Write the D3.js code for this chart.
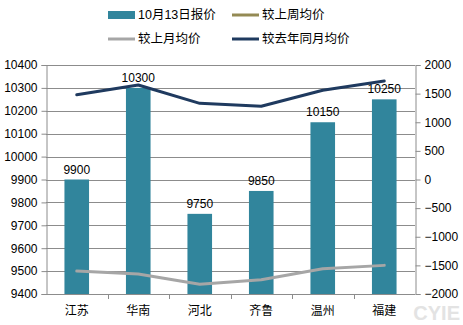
<!DOCTYPE html>
<html>
<head>
<meta charset="utf-8">
<script src="https://cdn.jsdelivr.net/npm/d3@7"></script>
<style>
  html, body { margin: 0; padding: 0; background: #fff; }
  svg { display: block; font-family: "Liberation Sans", "Noto Sans CJK SC", sans-serif; }
</style>
</head>
<body>
<svg id="chart" width="463" height="325"></svg>
<script>
// Regions and their quotes
const regions = ["江苏", "华南", "河北", "齐鲁", "温州", "福建"];
const quotes = [9900, 10300, 9750, 9850, 10150, 10250];
// Differences against reference averages (right axis)
const vsLastWeek = [null, null, null, null, null, null];
const vsLastMonth = [-1600, -1650, -1830, -1750, -1560, -1500];
const vsLastYear = [1480, 1650, 1330, 1280, 1560, 1720];
// Axis ticks
const leftTicks = [9400, 9500, 9600, 9700, 9800, 9900, 10000, 10100, 10200, 10300, 10400];
const rightTicks = [-2000, -1500, -1000, -500, 0, 500, 1000, 1500, 2000];

const legendItems = [
  { name: "10月13日报价", kind: "bar", color: "#31859C" },
  { name: "较上周均价", kind: "line", color: "#948A54" },
  { name: "较上月均价", kind: "line", color: "#A6A6A6" },
  { name: "较去年同月均价", kind: "line", color: "#1F3A5F" }
];

const svg = d3.select("#chart");
const plot = { left: 46, right: 415, top: 65, bottom: 294 };

const x = d3.scaleBand().domain(regions).range([plot.left, plot.right]).paddingInner(0.6).paddingOuter(0.3);
const xBand = d3.scaleBand().domain(regions).range([plot.left, plot.right]);
const yL = d3.scaleLinear().domain([9400, 10400]).range([plot.bottom, plot.top]);
const yR = d3.scaleLinear().domain([-2000, 2000]).range([plot.bottom, plot.top]);

// Watermark, sits behind everything else
svg.append("text")
  .attr("x", 460).attr("y", 320)
  .attr("text-anchor", "end")
  .attr("font-size", 20).attr("font-weight", "bold")
  .attr("fill", "#E3E3E3")
  .attr("font-family", "'Liberation Sans', sans-serif")
  .text("CYIE");

// Gridlines
svg.append("g").selectAll("line").data(leftTicks).join("line")
  .attr("x1", plot.left).attr("x2", plot.right)
  .attr("y1", d => Math.round(yL(d)) + 0.5).attr("y2", d => Math.round(yL(d)) + 0.5)
  .attr("stroke", "#8C8C8C").attr("stroke-width", 1);

// Bars
svg.append("g").selectAll("rect").data(quotes).join("rect")
  .attr("x", (d, i) => x(regions[i]))
  .attr("width", x.bandwidth())
  .attr("y", d => yL(d))
  .attr("height", d => plot.bottom - yL(d))
  .attr("fill", "#31859C");

// Bar value labels
svg.append("g").selectAll("text").data(quotes).join("text")
  .attr("x", (d, i) => x(regions[i]) + x.bandwidth() / 2)
  .attr("y", d => yL(d) - 6)
  .attr("text-anchor", "middle")
  .attr("font-size", 12)
  .attr("fill", "#000")
  .text(d => d);

// Lines on right axis
const line = d3.line()
  .defined(d => d.v != null)
  .x(d => xBand(d.r) + xBand.bandwidth() / 2)
  .y(d => yR(d.v));

function drawSeries(values, color, width) {
  const pts = values.map((v, i) => ({ r: regions[i], v }));
  if (pts.every(p => p.v == null)) return;
  svg.append("path").datum(pts)
    .attr("d", line)
    .attr("fill", "none")
    .attr("stroke", color)
    .attr("stroke-width", width)
    .attr("stroke-linejoin", "round")
    .attr("stroke-linecap", "round");
}
drawSeries(vsLastMonth, "#A6A6A6", 3);
drawSeries(vsLastWeek, "#948A54", 3);
drawSeries(vsLastYear, "#1F3A5F", 3);

// Left axis
const axL = svg.append("g").attr("transform", `translate(${plot.left + 0.5},0)`)
  .call(d3.axisLeft(yL).tickValues(leftTicks).tickSize(5).tickPadding(4).tickFormat(d3.format("d")));
// Right axis
const axR = svg.append("g").attr("transform", `translate(${plot.right + 0.5},0)`)
  .call(d3.axisRight(yR).tickValues(rightTicks).tickSize(5).tickPadding(4).tickFormat(d3.format("d")));
// Bottom axis
const axB = svg.append("g").attr("transform", `translate(0,${plot.bottom + 0.5})`)
  .call(d3.axisBottom(xBand).tickSize(0).tickPadding(12));
// Category separators on bottom axis
svg.append("g").selectAll("line").data(regions.slice(1)).join("line")
  .attr("x1", d => Math.round(xBand(d)) + 0.5).attr("x2", d => Math.round(xBand(d)) + 0.5)
  .attr("y1", plot.bottom).attr("y2", plot.bottom + 5)
  .attr("stroke", "#8C8C8C");

[axL, axR, axB].forEach(g => {
  g.selectAll("path.domain").attr("stroke", "#8C8C8C");
  g.selectAll(".tick line").attr("stroke", "#8C8C8C");
  g.selectAll("text").attr("font-size", 12).attr("fill", "#000")
    .attr("font-family", "'Liberation Sans', 'Noto Sans CJK SC', sans-serif");
});
axB.select("path.domain").attr("d", `M${plot.left},0H${plot.right}`);

// Legend
const legendPos = [[108, 15], [232, 15], [108, 39], [232, 39]];
const lg = svg.append("g").selectAll("g").data(legendItems).join("g")
  .attr("transform", (d, i) => `translate(${legendPos[i][0]},${legendPos[i][1]})`);
lg.filter(d => d.kind === "bar").append("rect")
  .attr("x", 0).attr("y", -4).attr("width", 27).attr("height", 8).attr("fill", d => d.color);
lg.filter(d => d.kind === "line").append("line")
  .attr("x1", 0).attr("x2", 27).attr("y1", 0).attr("y2", 0)
  .attr("stroke", d => d.color).attr("stroke-width", 3);
lg.append("text")
  .attr("x", 30).attr("y", 0).attr("dy", "0.35em")
  .attr("font-size", 12.5).attr("fill", "#000")
  .text(d => d.name);
</script>
</body>
</html>
